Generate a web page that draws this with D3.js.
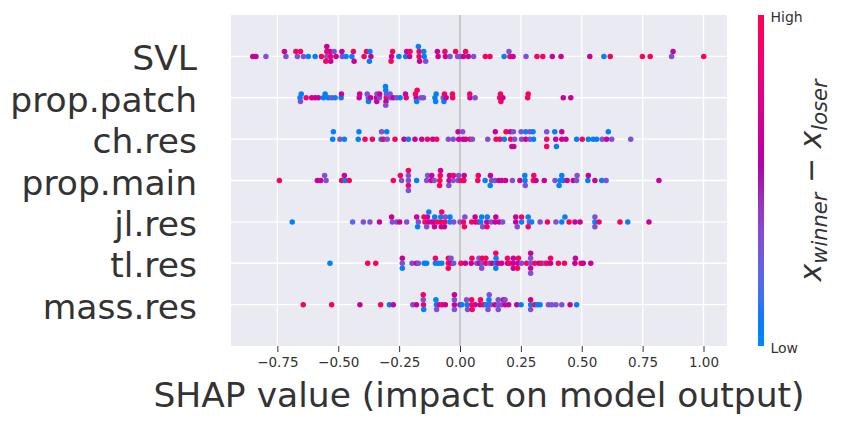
<!DOCTYPE html>
<html>
<head>
<meta charset="utf-8">
<script src="https://cdn.jsdelivr.net/npm/d3@7"></script>
<style>
  body { margin: 0; background: #fff; }
  text { font-family: "DejaVu Sans", sans-serif; fill: #333; }
</style>
</head>
<body>
<div id="chart"></div>
<script>
// Feature names, top to bottom
var features = ['SVL', 'prop.patch', 'ch.res', 'prop.main', 'jl.res', 'tl.res', 'mass.res']

// [shap value, normalised feature value] per sample
var svl = [
  [-0.851, 0.65], [-0.838, 0.65], [-0.797, 0.33],
  [-0.715, 0.33], [-0.721, 0.65], [-0.668, 0.33], [-0.674, 0.95],
  [-0.643, 0.33], [-0.655, 0.95], [-0.623, 0.05], [-0.595, 0.05], [-0.569, 0.95],
  [-0.547, 0.33], [-0.547, 0.95], [-0.551, 0.95], [-0.547, 0.65],
  [-0.531, 0.95], [-0.534, 0.65], [-0.531, 0.65],
  [-0.509, 0.65], [-0.517, 0.33], [-0.484, 0.33], [-0.485, 0.65], [-0.468, 0.05],
  [-0.444, 0.05], [-0.438, 0.95], [-0.435, 0.65],
  [-0.394, 0.95], [-0.384, 0.95], [-0.366, 0.65], [-0.370, 0.05], [-0.372, 0.05],
  [-0.281, 0.65], [-0.277, 0.95], [-0.283, 0.95], [-0.251, 0.05],
  [-0.223, 0.05], [-0.219, 0.65], [-0.207, 0.65], [-0.205, 0.95],
  [-0.168, 0.95], [-0.168, 0.95], [-0.166, 0.65], [-0.171, 0.05],
  [-0.147, 0.05], [-0.149, 0.05], [-0.141, 0.33],
  [-0.090, 0.65], [-0.093, 0.65], [-0.060, 0.65], [-0.062, 0.95], [-0.041, 0.33],
  [-0.010, 0.33], [-0.018, 0.95], [0.002, 0.33], [0.014, 0.65], [0.023, 0.95],
  [0.034, 0.65], [0.056, 0.33], [0.104, 0.95], [0.123, 0.95], [0.181, 0.05],
  [0.205, 0.95], [0.201, 0.33], [0.218, 0.65],
  [0.271, 0.33], [0.316, 0.95], [0.340, 0.95], [0.379, 0.65], [0.415, 0.65],
  [0.533, 0.65], [0.591, 0.05], [0.617, 0.95], [0.749, 0.95], [0.781, 0.95],
  [0.869, 0.33], [0.875, 0.65], [1.001, 0.95]
]

var propPatch = [
  [-0.657, 0.05], [-0.652, 0.05], [-0.655, 0.33], [-0.632, 0.95],
  [-0.609, 0.65], [-0.595, 0.65], [-0.582, 0.65],
  [-0.561, 0.05], [-0.554, 0.05], [-0.541, 0.05], [-0.527, 0.33], [-0.513, 0.05],
  [-0.488, 0.05], [-0.487, 0.65], [-0.414, 0.65], [-0.412, 0.65],
  [-0.377, 0.33], [-0.381, 0.33], [-0.376, 0.05], [-0.367, 0.65],
  [-0.343, 0.65], [-0.341, 0.33], [-0.342, 0.65], [-0.331, 0.33], [-0.330, 0.65],
  [-0.303, 0.95], [-0.302, 0.33], [-0.304, 0.65], [-0.305, 0.05], [-0.305, 0.33], [-0.306, 0.05],
  [-0.285, 0.33], [-0.287, 0.33], [-0.274, 0.65], [-0.260, 0.33], [-0.246, 0.05],
  [-0.221, 0.95], [-0.224, 0.65],
  [-0.180, 0.65], [-0.183, 0.95], [-0.178, 0.05], [-0.176, 0.95],
  [-0.160, 0.33], [-0.150, 0.33],
  [-0.103, 0.05], [-0.098, 0.05], [-0.100, 0.05],
  [-0.069, 0.33], [-0.064, 0.95], [-0.066, 0.05], [-0.057, 0.65],
  [-0.030, 0.95], [-0.031, 0.95], [0.041, 0.65], [0.040, 0.95], [0.062, 0.33],
  [0.163, 0.95], [0.166, 0.95], [0.168, 0.95], [0.176, 0.65],
  [0.278, 0.95], [0.280, 0.95], [0.424, 0.65], [0.455, 0.65]
]

var chRes = [
  [-0.523, 0.05], [-0.520, 0.05], [-0.493, 0.33], [-0.475, 0.05],
  [-0.418, 0.05], [-0.415, 0.05], [-0.390, 0.95], [-0.360, 0.95],
  [-0.324, 0.05], [-0.322, 0.33], [-0.315, 0.95], [-0.299, 0.33], [-0.301, 0.05],
  [-0.267, 0.95], [-0.230, 0.65], [-0.212, 0.05], [-0.185, 0.65], [-0.157, 0.65],
  [-0.134, 0.95], [-0.112, 0.65], [-0.096, 0.95], [-0.048, 0.33], [-0.028, 0.33],
  [-0.005, 0.65], [-0.008, 0.65], [0.012, 0.65], [0.011, 0.33],
  [0.023, 0.65], [0.041, 0.95], [0.051, 0.33], [0.114, 0.33],
  [0.148, 0.95], [0.145, 0.65], [0.164, 0.95], [0.182, 0.05], [0.189, 0.95],
  [0.208, 0.95], [0.207, 0.65], [0.213, 0.65],
  [0.224, 0.33], [0.219, 0.33], [0.221, 0.65],
  [0.253, 0.33], [0.251, 0.33], [0.270, 0.65], [0.270, 0.05],
  [0.287, 0.33], [0.287, 0.33], [0.302, 0.05], [0.300, 0.05],
  [0.356, 0.95], [0.356, 0.33], [0.356, 0.95],
  [0.393, 0.65], [0.389, 0.05], [0.396, 0.05], [0.418, 0.65], [0.418, 0.65],
  [0.435, 0.65], [0.479, 0.05], [0.502, 0.95], [0.527, 0.05], [0.547, 0.05],
  [0.561, 0.05], [0.584, 0.33], [0.602, 0.65], [0.609, 0.05], [0.623, 0.33], [0.701, 0.33]
]

var propMain = [
  [-0.742, 0.95], [-0.586, 0.65], [-0.572, 0.65], [-0.550, 0.33], [-0.556, 0.33],
  [-0.486, 0.95], [-0.472, 0.05], [-0.475, 0.65], [-0.455, 0.95], [-0.274, 0.95],
  [-0.240, 0.33], [-0.245, 0.95],
  [-0.212, 0.33], [-0.212, 0.33], [-0.212, 0.95], [-0.212, 0.95], [-0.212, 0.33],
  [-0.178, 0.05], [-0.137, 0.33], [-0.133, 0.33], [-0.118, 0.65], [-0.116, 0.65],
  [-0.106, 0.33], [-0.083, 0.95], [-0.081, 0.95], [-0.084, 0.95], [-0.080, 0.65],
  [-0.045, 0.65], [-0.043, 0.65], [-0.046, 0.33], [-0.028, 0.33], [-0.027, 0.95],
  [-0.008, 0.33], [-0.006, 0.33], [0.004, 0.95], [0.016, 0.95], [0.017, 0.65],
  [0.073, 0.95], [0.075, 0.95], [0.103, 0.05], [0.130, 0.33], [0.125, 0.65], [0.124, 0.05],
  [0.144, 0.33], [0.160, 0.65], [0.171, 0.65], [0.187, 0.65], [0.215, 0.33], [0.246, 0.65],
  [0.267, 0.05], [0.266, 0.05], [0.268, 0.33], [0.301, 0.95], [0.303, 0.95],
  [0.312, 0.65], [0.346, 0.65], [0.390, 0.33],
  [0.411, 0.05], [0.418, 0.05], [0.407, 0.05], [0.424, 0.05], [0.440, 0.65], [0.465, 0.65],
  [0.479, 0.33], [0.481, 0.33], [0.525, 0.05], [0.527, 0.65],
  [0.554, 0.65], [0.582, 0.05], [0.600, 0.33], [0.817, 0.65]
]

var jlRes = [
  [-0.689, 0.05], [-0.441, 0.2], [-0.397, 0.33], [-0.370, 0.33], [-0.331, 0.65],
  [-0.278, 0.33], [-0.281, 0.65], [-0.260, 0.33], [-0.248, 0.65], [-0.219, 0.33],
  [-0.171, 0.33], [-0.178, 0.65], [-0.174, 0.05], [-0.144, 0.95], [-0.148, 0.95],
  [-0.130, 0.65], [-0.134, 0.65], [-0.137, 0.33], [-0.128, 0.05], [-0.116, 0.65],
  [-0.106, 0.65], [-0.104, 0.05], [-0.105, 0.65], [-0.094, 0.95],
  [-0.079, 0.95], [-0.079, 0.05], [-0.077, 0.65], [-0.075, 0.95],
  [-0.062, 0.95], [-0.060, 0.33], [-0.064, 0.65], [-0.041, 0.05], [-0.041, 0.05],
  [-0.026, 0.33], [0.000, 0.33], [0.014, 0.95], [0.020, 0.33], [0.018, 0.95],
  [0.048, 0.95], [0.064, 0.65], [0.062, 0.65], [0.075, 0.95],
  [0.085, 0.05], [0.089, 0.05], [0.093, 0.33], [0.110, 0.65], [0.112, 0.05], [0.111, 0.95],
  [0.128, 0.33], [0.144, 0.65], [0.147, 0.65], [0.161, 0.65], [0.175, 0.33],
  [0.229, 0.65], [0.229, 0.65], [0.235, 0.33], [0.253, 0.05], [0.253, 0.95],
  [0.285, 0.33], [0.280, 0.05], [0.280, 0.95], [0.294, 0.05], [0.329, 0.33],
  [0.359, 0.95], [0.394, 0.33], [0.418, 0.05], [0.431, 0.05], [0.448, 0.95],
  [0.472, 0.65], [0.493, 0.65], [0.554, 0.05], [0.554, 0.33], [0.554, 0.33],
  [0.571, 0.95], [0.657, 0.95], [0.689, 0.05], [0.776, 0.65]
]

var tlRes = [
  [-0.534, 0.05], [-0.379, 0.95], [-0.346, 0.95],
  [-0.237, 0.33], [-0.237, 0.65], [-0.237, 0.05],
  [-0.197, 0.33], [-0.179, 0.65], [-0.171, 0.33], [-0.147, 0.05], [-0.137, 0.05],
  [-0.101, 0.05], [-0.101, 0.95], [-0.088, 0.05], [-0.075, 0.05],
  [-0.048, 0.95], [-0.048, 0.95], [-0.048, 0.95], [-0.037, 0.65], [-0.037, 0.33],
  [-0.026, 0.33], [0.004, 0.95], [0.022, 0.65], [0.046, 0.65], [0.049, 0.95],
  [0.069, 0.33], [0.080, 0.65], [0.078, 0.33], [0.090, 0.33], [0.091, 0.95], [0.089, 0.33],
  [0.106, 0.95], [0.106, 0.95], [0.122, 0.33], [0.132, 0.65],
  [0.148, 0.05], [0.148, 0.05], [0.147, 0.05], [0.147, 0.95],
  [0.157, 0.65], [0.171, 0.65], [0.195, 0.65], [0.195, 0.95], [0.205, 0.95],
  [0.219, 0.65], [0.219, 0.65], [0.219, 0.65], [0.238, 0.65], [0.240, 0.95], [0.236, 0.95],
  [0.253, 0.33], [0.274, 0.95],
  [0.290, 0.33], [0.290, 0.33], [0.290, 0.65], [0.290, 0.65], [0.290, 0.33],
  [0.307, 0.95], [0.324, 0.65], [0.336, 0.95], [0.349, 0.33], [0.357, 0.95],
  [0.372, 0.65], [0.372, 0.95], [0.404, 0.95], [0.429, 0.95], [0.472, 0.65], [0.474, 0.65],
  [0.497, 0.95], [0.506, 0.65], [0.537, 0.65]
]

var massRes = [
  [-0.644, 0.95], [-0.527, 0.95], [-0.411, 0.65], [-0.326, 0.95], [-0.290, 0.05], [-0.274, 0.65],
  [-0.194, 0.33], [-0.179, 0.65],
  [-0.150, 0.95], [-0.151, 0.33], [-0.149, 0.05], [-0.151, 0.95],
  [-0.097, 0.05], [-0.099, 0.05], [-0.096, 0.33], [-0.085, 0.65], [-0.073, 0.95], [-0.060, 0.65],
  [-0.023, 0.65], [-0.023, 0.33], [-0.023, 0.33], [-0.023, 0.65], [0.000, 0.65], [0.007, 0.05],
  [0.029, 0.05], [0.027, 0.33], [0.031, 0.33], [0.048, 0.95], [0.048, 0.95], [0.050, 0.95],
  [0.062, 0.65], [0.082, 0.65], [0.084, 0.95], [0.096, 0.95], [0.107, 0.05],
  [0.117, 0.05], [0.119, 0.05], [0.115, 0.33], [0.120, 0.33], [0.127, 0.33], [0.144, 0.65],
  [0.157, 0.33], [0.157, 0.33], [0.157, 0.33], [0.171, 0.33], [0.178, 0.65],
  [0.185, 0.65], [0.185, 0.33], [0.200, 0.65], [0.233, 0.65], [0.251, 0.05],
  [0.290, 0.05], [0.290, 0.65], [0.290, 0.33], [0.307, 0.95], [0.318, 0.05], [0.329, 0.05],
  [0.363, 0.33], [0.377, 0.33], [0.394, 0.33], [0.418, 0.33], [0.452, 0.65], [0.479, 0.05]
]

var rows = [svl, propPatch, chRes, propMain, jlRes, tlRes, massRes]
var xTicks = [-0.75, -0.5, -0.25, 0, 0.25, 0.5, 0.75, 1.0]
var colorbarLabels = ['Low', 'High']
var xTitle = 'SHAP value (impact on model output)'

// Dimensions
var width = 843
var height = 424
var margin = { top: 15, right: 116, bottom: 78, left: 231 }
var chartWidth = width - margin.left - margin.right
var chartHeight = height - margin.top - margin.bottom

// Scales
var x = d3.scaleLinear().domain([-0.9405, 1.0965]).range([0, chartWidth])
var y = d3.scaleLinear().domain([-1, features.length]).range([chartHeight, 0])
var rowHeight = 0.4 * (y(0) - y(1))

// shap red_blue colormap, interpolated in LCH
function shapColor(t) {
  var l = t < 0.5 ? 54 - 28 * t : 40 + 28 * (t - 0.5)
  var c = 70 + 20 * t
  var h = 266.93 + 113.39 * t
  return d3.hcl(h, c, l).formatHex()
}

// Beeswarm offsets, same binning as shap's summary plot
function swarm(points) {
  var vals = points.map(function (d) { return d[0] })
  var mn = d3.min(vals), mx = d3.max(vals)
  var nbins = 100
  var quant = vals.map(function (v) { return Math.round(nbins * (v - mn) / (mx - mn + 1e-8)) })
  var inds = d3.range(points.length).sort(function (a, b) { return quant[a] - quant[b] || a - b })
  var ys = new Array(points.length).fill(0)
  var layer = 0, last = -1
  inds.forEach(function (i) {
    if (quant[i] !== last) layer = 0
    ys[i] = Math.ceil(layer / 2) * ((layer % 2) * 2 - 1)
    layer += 1
    last = quant[i]
  })
  var k = 0.9 * rowHeight / d3.max(ys, function (v) { return v + 1 })
  return ys.map(function (v) { return v * k })
}

var svg = d3.select('#chart').append('svg')
  .attr('width', width)
  .attr('height', height)

var g = svg.append('g')
  .attr('transform', 'translate(' + margin.left + ',' + margin.top + ')')

// Background + grid
g.append('rect')
  .attr('width', chartWidth)
  .attr('height', chartHeight)
  .attr('fill', '#eaeaf2')

g.selectAll('.vgrid').data(xTicks).enter().append('line')
  .attr('class', 'vgrid')
  .attr('x1', function (d) { return x(d) }).attr('x2', function (d) { return x(d) })
  .attr('y1', 0).attr('y2', chartHeight)
  .attr('stroke', '#fff').attr('stroke-width', 1.3)

g.selectAll('.hgrid').data(features).enter().append('line')
  .attr('class', 'hgrid')
  .attr('x1', 0).attr('x2', chartWidth)
  .attr('y1', function (d, i) { return y(features.length - 1 - i) })
  .attr('y2', function (d, i) { return y(features.length - 1 - i) })
  .attr('stroke', '#fff').attr('stroke-width', 1.3)

g.append('line')
  .attr('x1', x(0)).attr('x2', x(0))
  .attr('y1', 0).attr('y2', chartHeight)
  .attr('stroke', '#999').attr('stroke-width', 1)

// Dots
rows.forEach(function (pts, i) {
  var pos = features.length - 1 - i
  var offs = swarm(pts)
  g.append('g').selectAll('circle').data(pts).enter().append('circle')
    .attr('cx', function (d) { return x(d[0]) })
    .attr('cy', function (d, j) { return y(pos) - offs[j] })
    .attr('r', 2.75)
    .attr('fill', function (d) { return shapColor(d[1]) })
})

// Feature labels
g.selectAll('.flabel').data(features).enter().append('text')
  .attr('class', 'flabel')
  .attr('x', -34)
  .attr('y', function (d, i) { return y(features.length - 1 - i) + 14 })
  .attr('text-anchor', 'end')
  .style('font-size', '34.5px')
  .text(function (d) { return d })

// X axis
var xAxis = g.append('g')
  .attr('transform', 'translate(0,' + chartHeight + ')')
  .call(d3.axisBottom(x).tickValues(xTicks).tickFormat(d3.format('.2f')).tickSize(6).tickPadding(5))
xAxis.select('.domain').remove()
xAxis.selectAll('.tick line').attr('stroke', '#333').attr('stroke-width', 1)
xAxis.selectAll('.tick text')
  .attr('fill', '#333')
  .style('font-family', '"DejaVu Sans", sans-serif')
  .style('font-size', '13.5px')

g.append('text')
  .attr('x', chartWidth / 2)
  .attr('y', chartHeight + 61)
  .attr('text-anchor', 'middle')
  .style('font-size', '34.5px')
  .text(xTitle)

// Colorbar
var cbX = 758, cbW = 6
var grad = svg.append('defs').append('linearGradient')
  .attr('id', 'cbgrad')
  .attr('x1', 0).attr('y1', 1).attr('x2', 0).attr('y2', 0)
grad.selectAll('stop').data(d3.range(0, 1.0001, 0.05)).enter().append('stop')
  .attr('offset', function (d) { return d })
  .attr('stop-color', function (d) { return shapColor(d) })

svg.append('rect')
  .attr('x', cbX).attr('y', margin.top)
  .attr('width', cbW).attr('height', chartHeight)
  .attr('fill', 'url(#cbgrad)')

svg.selectAll('.cblabel').data(colorbarLabels).enter().append('text')
  .attr('class', 'cblabel')
  .attr('x', cbX + cbW + 6.5)
  .attr('y', function (d, i) { return (i === 0 ? margin.top + chartHeight : margin.top) + 6.5 })
  .style('font-size', '14px')
  .text(function (d) { return d })

var cbl = svg.append('text')
  .attr('transform', 'translate(821,' + (margin.top + chartHeight / 2) + ') rotate(-90)')
  .attr('text-anchor', 'middle')
  .style('font-size', '30px')
cbl.append('tspan').style('font-style', 'italic').text('x')
cbl.append('tspan').attr('dy', 6).style('font-size', '21px').style('font-style', 'italic').text('winner')
cbl.append('tspan').attr('dy', -6).text(' \u2212 ')
cbl.append('tspan').style('font-style', 'italic').text('x')
cbl.append('tspan').attr('dy', 6).style('font-size', '21px').style('font-style', 'italic').text('loser')
</script>
</body>
</html>
